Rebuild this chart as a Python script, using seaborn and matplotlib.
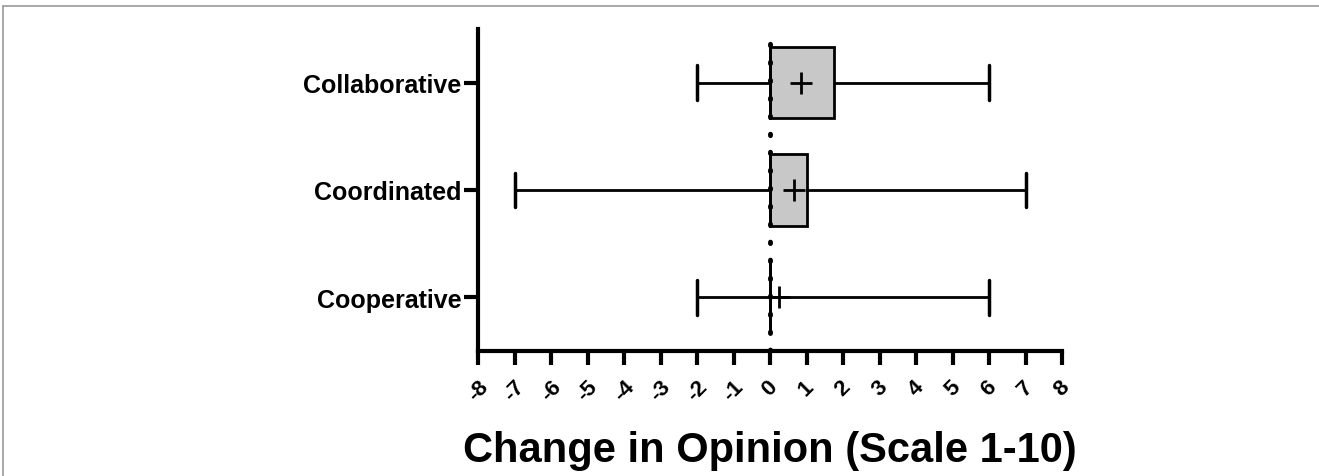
import numpy as np
import matplotlib
matplotlib.use("Agg")
import matplotlib.pyplot as plt
import seaborn as sns

# summary values (whiskers = min/max, + = mean)
groups = ["Collaborative", "Coordinated", "Cooperative"]
mins = [-2, -7, -2]
q1s = [0, 0, 0]
medians = [0, 0, 0]
q3s = [1.75, 1.0, 0]
maxs = [6, 7, 6]
means = [0.85, 0.65, 0.25]
xticks = list(range(-8, 9))

sns.set_style("ticks")
plt.rcParams["font.family"] = ["Liberation Sans", "DejaVu Sans"]
plt.rcParams["axes.unicode_minus"] = False
plt.rcParams["text.color"] = "black"
plt.rcParams["axes.labelcolor"] = "black"
plt.rcParams["xtick.color"] = "black"
plt.rcParams["ytick.color"] = "black"

fig = plt.figure(figsize=(13.19, 4.77), dpi=100)
ax = fig.add_axes([478 / 1319, 1 - 352 / 477, (1062 - 478) / 1319, (352 - 30) / 477])

stats = []
for g, lo, a, m, b, hi, mu in zip(groups, mins, q1s, medians, q3s, maxs, means):
    stats.append(dict(label=g, whislo=lo, q1=a, med=m, q3=b, whishi=hi, mean=mu, fliers=[]))

ax.bxp(stats, positions=range(len(groups)), vert=False, widths=0.667,
       capwidths=0.32, patch_artist=True, showmeans=True,
       boxprops=dict(facecolor="#c8c8c8", edgecolor="black", linewidth=2),
       medianprops=dict(color="black", linewidth=2),
       whiskerprops=dict(color="black", linewidth=2),
       capprops=dict(color="black", linewidth=2.5),
       meanprops=dict(marker="+", markersize=16, markeredgewidth=2,
                      markeredgecolor="black", markerfacecolor="black"))

ax.axvline(0, color="black", linewidth=3.5, linestyle=(0, (0.3, 3.4)),
           dash_capstyle="round", zorder=5)

ax.set_xlim(-8, 8)
ax.set_ylim(2.5, -0.5)
ax.set_xticks(xticks)
ax.set_xticklabels([str(v) for v in xticks], rotation=45, ha="center",
                   fontsize=16, fontweight="bold")
ax.set_yticks(range(len(groups)))
ax.set_yticklabels(groups, fontsize=18, fontweight="bold")
ax.tick_params(axis="both", direction="out", length=10, width=3, color="black")
ax.tick_params(axis="y", pad=2)
ax.tick_params(axis="x", pad=8)
for s in ["left", "bottom"]:
    ax.spines[s].set_linewidth(3)
    ax.spines[s].set_color("black")
sns.despine(ax=ax)

ax.set_xlabel("Change in Opinion (Scale 1-10)", fontsize=30, fontweight="bold",
              labelpad=18)

# thin grey frame around the picture (top and left edges)
fig.add_artist(plt.Line2D([3 / 1319, 1], [1 - 7 / 477, 1 - 7 / 477],
                          transform=fig.transFigure, color="#999999", linewidth=1.2))
fig.add_artist(plt.Line2D([3 / 1319, 3 / 1319], [0, 1 - 7 / 477],
                          transform=fig.transFigure, color="#999999", linewidth=1.2))

fig.savefig("out.png", dpi=100)
